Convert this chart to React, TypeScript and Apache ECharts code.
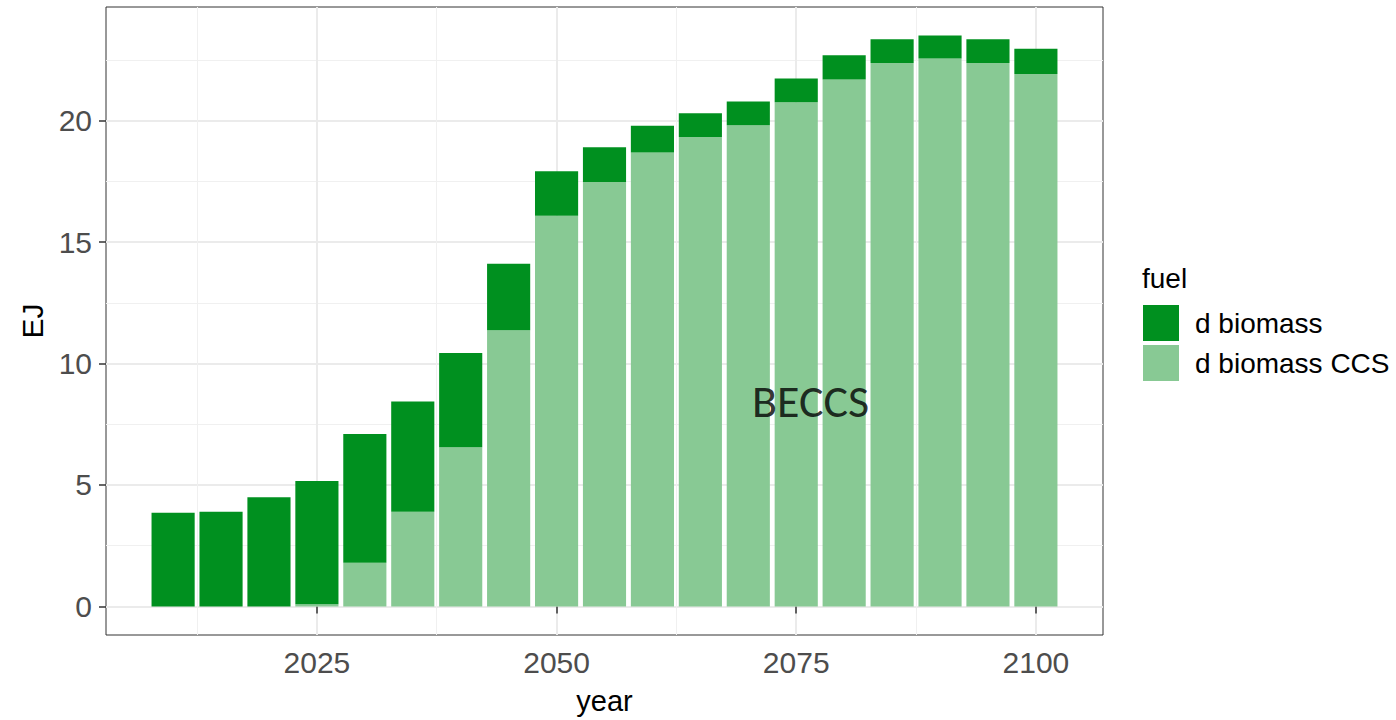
import React, { useEffect, useRef } from "react";
import * as echarts from "echarts";

const years = [2010, 2015, 2020, 2025, 2030, 2035, 2040, 2045, 2050, 2055, 2060, 2065, 2070, 2075, 2080, 2085, 2090, 2095, 2100];
const biomass = [3.86, 3.9, 4.5, 5.07, 5.3, 4.54, 3.88, 2.74, 1.83, 1.43, 1.1, 0.98, 0.98, 0.98, 1.0, 0.98, 0.95, 0.98, 1.04];
const biomassCCS = [0, 0, 0, 0.09, 1.8, 3.9, 6.55, 11.37, 16.08, 17.47, 18.69, 19.32, 19.81, 20.75, 21.69, 22.37, 22.55, 22.37, 21.92];
const seriesNames = ["d biomass", "d biomass CCS"];
const xTicks = [2025, 2050, 2075, 2100];
const yTicks = [0, 5, 10, 15, 20];
const annotation = { text: "BECCS", x: 2076.5, y: 8.45 };

const FONT = "'Liberation Sans', Arial, sans-serif";
const DARK = "#00901F";
const LIGHT = "#88C994";

export default function App() {
  const ref = useRef<HTMLDivElement>(null);
  useEffect(() => {
    if (!ref.current) return;
    const chart = echarts.init(ref.current, undefined, { renderer: "svg" });
    // value first, year second, so the stacked dimension is the value (y)
    const toRows = (vals: number[]) => years.map((yr, i) => [vals[i], yr]);
    const option: any = {
      animation: false,
      textStyle: { fontFamily: FONT },
      grid: {
        left: 106,
        right: 293,
        top: 7,
        bottom: 82,
        show: true,
        borderColor: "#333333",
        borderWidth: 1,
        backgroundColor: "transparent",
      },
      legend: {
        data: seriesNames,
        orient: "vertical",
        left: 1138,
        top: 300,
        itemWidth: 36,
        itemHeight: 36,
        itemGap: 4,
        icon: "rect",
        selectedMode: false,
        textStyle: { fontSize: 28, color: "#000", fontFamily: FONT, padding: [0, 0, 0, 11] },
      },
      graphic: [
        {
          type: "text",
          left: 1142,
          top: 264,
          style: { text: "fuel", fontSize: 28, fill: "#000", fontFamily: FONT },
        },
      ],
      xAxis: {
        type: "value",
        min: 2003,
        max: 2107,
        minInterval: 25,
        maxInterval: 25,
        axisLine: { show: false },
        axisTick: { show: true, length: 7, customValues: xTicks, lineStyle: { color: "#333", width: 1.5 } },
        axisLabel: {
          customValues: xTicks,
          fontSize: 30,
          color: "#4D4D4D",
          margin: 12,
          fontFamily: FONT,
          formatter: (v: number) => (xTicks.includes(v) ? String(v) : ""),
        },
        splitLine: { show: true, lineStyle: { color: "#EBEBEB", width: 2 } },
        minorTick: { show: false, splitNumber: 2 },
        minorSplitLine: { show: true, lineStyle: { color: "#F0F0F0", width: 1 } },
        name: "year",
        nameLocation: "middle",
        nameGap: 51,
        nameTextStyle: { fontSize: 29, color: "#000", fontFamily: FONT },
      },
      yAxis: {
        type: "value",
        min: -1.175,
        max: 24.675,
        minInterval: 5,
        maxInterval: 5,
        axisLine: { show: false },
        axisTick: { show: true, length: 7, customValues: yTicks, lineStyle: { color: "#333", width: 1.5 } },
        axisLabel: {
          customValues: yTicks,
          fontSize: 30,
          color: "#4D4D4D",
          margin: 14,
          fontFamily: FONT,
          formatter: (v: number) => (yTicks.includes(v) ? String(v) : ""),
        },
        splitLine: { show: true, lineStyle: { color: "#EBEBEB", width: 2 } },
        minorTick: { show: false, splitNumber: 2 },
        minorSplitLine: { show: true, lineStyle: { color: "#F0F0F0", width: 1 } },
        name: "EJ",
        nameLocation: "middle",
        nameRotate: 90,
        nameGap: 50,
        nameTextStyle: { fontSize: 30, color: "#000", fontFamily: FONT },
      },
      series: [
        {
          name: "d biomass CCS",
          type: "bar",
          stack: "fuel",
          barWidth: "90%",
          encode: { x: 1, y: 0 },
          itemStyle: { color: LIGHT },
          emphasis: { disabled: true },
          data: toRows(biomassCCS),
        },
        {
          name: "d biomass",
          type: "bar",
          stack: "fuel",
          barWidth: "90%",
          encode: { x: 1, y: 0 },
          itemStyle: { color: DARK },
          emphasis: { disabled: true },
          data: toRows(biomass),
        },
        {
          name: "annotation",
          type: "scatter",
          symbolSize: 0,
          silent: true,
          z: 10,
          data: [[annotation.x, annotation.y]],
          label: {
            show: true,
            position: "inside",
            formatter: annotation.text,
            fontSize: 46,
            color: "#000",
            fontFamily: "Carlito, Lato, sans-serif",
          },
        },
      ],
    };
    chart.setOption(option);
    return () => chart.dispose();
  }, []);
  return (
    <div
      ref={ref}
      style={{ position: "fixed", left: 0, top: 0, width: 1396, height: 720, background: "#fff" }}
    />
  );
}
